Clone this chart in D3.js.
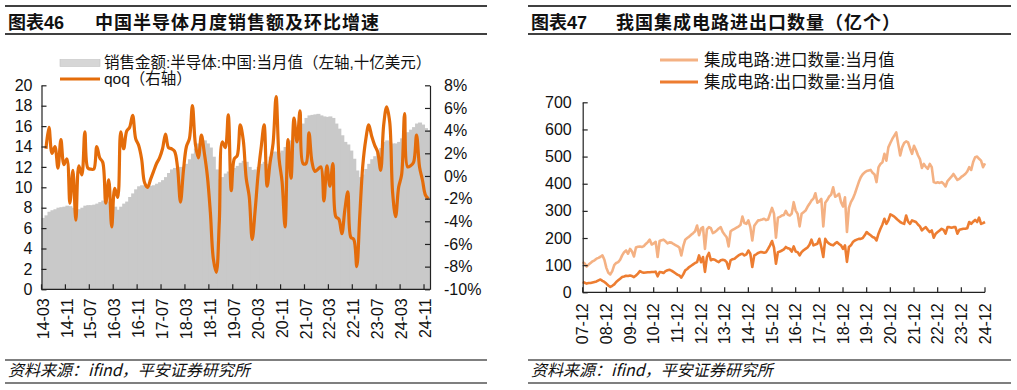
<!DOCTYPE html>
<html><head><meta charset="utf-8">
<script src="https://cdn.jsdelivr.net/npm/d3@7"></script>
<style>
body{margin:0;background:#fff}
svg{display:block}
text{font-family:"Liberation Sans",Arial,"Noto Sans CJK SC",sans-serif;fill:#111}
</style></head>
<body><svg id="c" width="1017" height="390"></svg>
<script>
// ---------- data: chart 46 (2014-03 .. 2024-12) ----------
const salesStart = [2014, 3];
const salesValues = [
 7.0,7.25,7.6,7.75,7.85,8.0,8.05,8.1,8.2,8.15,
 8.0,7.9,7.85,8.0,8.2,8.25,8.25,8.3,8.4,8.55,
 8.7,8.75,8.6,8.4,8.1,7.8,8.1,8.4,8.6,9.05,
 9.4,9.8,10.1,10.2,10.15,10.15,10.15,10.2,10.35,10.5,
 10.7,11.0,11.4,11.75,11.9,12.0,12.0,11.75,12.3,12.75,
 13.3,13.8,14.3,14.6,14.6,14.3,13.9,13.0,11.75,10.8,
 11.0,11.35,11.55,11.75,11.9,12.1,12.4,12.6,12.5,12.0,
 11.7,11.75,12.0,12.3,12.5,12.3,13.0,13.5,13.5,13.4,
 13.6,13.95,14.3,14.6,14.9,15.35,15.75,16.25,16.8,17.05,
 17.1,17.15,17.2,17.05,16.95,16.9,16.95,16.8,16.25,15.75,
 15.1,14.45,14.2,13.6,12.8,11.65,11.0,11.25,11.8,12.3,
 12.75,13.05,13.4,13.85,14.45,14.6,14.45,14.3,14.3,14.45,
 14.8,15.15,15.4,15.65,15.9,16.25,16.35,16.15,15.8,15.6
];
const qoqValues = [
 null,
 2.4,4.3,2.0,2.6,0.7,3.2,1.0,1.5,-2.4,0.5,
 -3.9,0.9,0.1,3.9,0.7,0.6,0.6,2.6,1.6,1.2,
 -2.4,-0.35,-4.5,-1.1,-1.9,3.9,2.4,3.95,4.3,5.35,
 3.3,2.7,1.5,-0.6,-1.0,-0.3,0.4,1.1,1.6,2.4,
 3.7,2.5,2.4,2.2,0.8,-2.3,0.5,2.6,3.3,6.2,
 2.8,1.6,3.6,2.0,0.0,-3.2,-7.3,-8.5,-4.0,3.0,
 2.5,5.4,-1.3,1.5,1.8,4.5,3.2,-0.2,-1.8,-5.6,
 -3.0,0.2,2.5,4.5,-0.9,1.2,2.9,7.0,1.5,-0.5,
 -4.5,3.2,-0.2,5.1,3.0,5.75,1.1,1.1,3.8,1.25,
 0.4,0.6,0.8,-2.2,0.9,-0.9,1.1,-3.6,-3.8,-5.1,
 -3.0,-1.4,-5.4,-5.6,-8.0,-3.5,0.9,3.2,4.5,3.5,
 2.7,2.1,0.5,4.5,6.1,4.8,-1.5,-3.6,-1.0,0.1,
 5.5,0.8,0.9,1.2,3.6,0.8,-0.4,-1.7,-2.0
];
const salesTickLabels = ["14-03","14-11","15-07","16-03","16-11","17-07","18-03","18-11","19-07","20-03","20-11","21-07","22-03","22-11","23-07","24-03","24-11"];
const leftTicks = [0,2,4,6,8,10,12,14,16,18,20];
const rightTicks = [-10,-8,-6,-4,-2,0,2,4,6,8];

// ---------- data: chart 47 (2007-12 .. 2024-12) ----------
const icStart = [2007, 12];
const importQty = [
 112,
 106,95,102,108,114,118,124,127,131,136,120,90,
 72,66,78,100,108,111,120,136,148,154,142,160,
 150,132,165,168,169,167,170,178,185,194,176,180,
 186,130,189,192,194,188,180,184,183,178,174,170,
 165,136,170,194,200,205,212,218,225,246,210,235,
 240,160,232,240,236,218,222,228,235,240,222,212,
 203,169,225,230,234,238,242,248,279,255,252,265,
 240,191,245,255,265,266,268,271,266,268,290,311,
 290,201,275,278,283,285,300,286,283,290,332,301,
 289,243,289,295,301,315,326,338,345,365,330,335,
 344,243,330,340,353,360,387,352,356,363,332,316,
 350,222,311,332,345,363,385,406,424,435,442,447,
 449,451,440,434,406,460,473,479,510,485,534,550,
 565,577,589,546,504,534,550,556,552,530,510,540,
 524,505,491,458,473,462,455,473,461,406,403,405,
 403,406,400,390,410,418,426,436,425,414,418,425,
 430,436,445,461,451,480,498,500,492,485,461,475
];
const exportQty = [
 38,
 35,32,34,34,36,38,40,44,47,42,38,32,
 25,20,24,29,38,44,50,56,58,61,60,62,
 60,56,62,69,78,74,72,73,74,74,75,75,
 76,59,75,74,71,78,81,83,80,75,70,65,
 62,54,66,81,86,93,98,103,108,111,136,111,
 130,75,130,145,118,122,120,115,111,118,120,118,
 111,87,118,122,124,130,136,140,142,136,140,154,
 142,93,136,140,145,148,148,146,148,160,173,189,
 165,105,148,150,154,158,167,162,160,150,169,150,
 148,136,148,155,160,165,175,194,173,176,179,197,
 167,130,197,185,179,175,173,180,185,178,173,160,
 173,112,167,173,185,191,194,197,197,200,210,222,
 215,210,204,201,191,216,234,250,271,252,265,287,
 283,279,272,265,259,255,252,283,260,252,265,262,
 259,250,243,228,235,240,230,222,228,201,216,222,
 228,234,230,216,240,240,238,240,240,216,230,232,
 234,234,236,259,252,260,267,259,275,252,255,259
];
const icTickLabels = ["07-12","08-12","09-12","10-12","11-12","12-12","13-12","14-12","15-12","16-12","17-12","18-12","19-12","20-12","21-12","22-12","23-12","24-12"];
const icYTicks = [0,100,200,300,400,500,600,700];

// ---------- helpers ----------
function months(start, n){
  const out=[]; let y=start[0], m=start[1];
  for(let k=0;k<n;k++){ out.push(String(y%100).padStart(2,"0")+"-"+String(m).padStart(2,"0")); m++; if(m>12){m=1;y++;} }
  return out;
}
const salesCats = months(salesStart, salesValues.length);
const icCats = months(icStart, importQty.length);

const svg = d3.select("#c");
const AX = "#222";

function frame(x0, x1, titleNo, titleText, tx2){
  svg.append("line").attr("x1",x0).attr("x2",x1).attr("y1",6).attr("y2",6).attr("stroke","#000").attr("stroke-width",1.6);
  svg.append("line").attr("x1",x0).attr("x2",x1).attr("y1",34).attr("y2",34).attr("stroke","#000").attr("stroke-width",1.6);
  svg.append("text").attr("x",x0+3).attr("y",29).attr("font-size",18).attr("font-weight","bold").text(titleNo);
  svg.append("text").attr("x",tx2).attr("y",29).attr("font-size",18).attr("font-weight","bold").attr("letter-spacing",1).text(titleText);
  svg.append("line").attr("x1",x0).attr("x2",x1).attr("y1",360).attr("y2",360).attr("stroke","#000").attr("stroke-width",1.2);
  svg.append("line").attr("x1",x0).attr("x2",x1).attr("y1",383).attr("y2",383).attr("stroke","#000").attr("stroke-width",1.2);
  svg.append("text").attr("x",x0+3).attr("y",376).attr("font-size",16).attr("font-style","italic")
    .style("font-family","'Noto Sans CJK SC','Liberation Sans',sans-serif").attr("fill","#222").text("资料来源：ifind，平安证券研究所");
}

// ================= Chart 46 =================
frame(5, 487, "图表46", "中国半导体月度销售额及环比增速", 95);

const L = {x0:41.5, x1:430, y0:289.3, y1:85.3};
const xb = d3.scaleBand().domain(salesCats).range([L.x0, L.x1]).padding(0);
const yL = d3.scaleLinear().domain([0,20]).range([L.y0, L.y1]);
const yR = d3.scaleLinear().domain([-10,8]).range([L.y0, L.y1]);

svg.append("g").selectAll("rect").data(salesValues).join("rect")
  .attr("x",(d,i)=>xb(salesCats[i]))
  .attr("width",(d,i)=> i===salesValues.length-1 ? xb.bandwidth() : xb.bandwidth()+1)
  .attr("y",d=>yL(d))
  .attr("height",d=>yL(0)-yL(d))
  .attr("fill","#c9c9c9");

const qoqLine = d3.line()
  .defined(d=>d!=null)
  .x((d,i)=>xb(salesCats[i])+xb.bandwidth()/2)
  .y(d=>yR(d))
  .curve(d3.curveCatmullRom.alpha(0.5));
svg.append("path").datum(qoqValues).attr("d",qoqLine).attr("fill","none")
  .attr("stroke","#E46C0A").attr("stroke-width",3.2).attr("stroke-linejoin","round");

function styleAxis(g){
  g.select(".domain").attr("stroke",AX).attr("stroke-width",1.2);
  g.selectAll(".tick line").attr("stroke",AX).attr("stroke-width",1.2);
  g.selectAll(".tick text").attr("font-size",16).attr("fill","#111")
   .style("font-family","'Liberation Sans',Arial,sans-serif");
}
const gl = svg.append("g").attr("transform",`translate(${L.x0},0)`)
  .call(d3.axisLeft(yL).tickValues(leftTicks).tickSize(-5).tickSizeOuter(0).tickPadding(9));
styleAxis(gl);
const gr = svg.append("g").attr("transform",`translate(${L.x1},0)`)
  .call(d3.axisRight(yR).tickValues(rightTicks).tickSize(-5).tickSizeOuter(0).tickPadding(14).tickFormat(d=>d+"%"));
styleAxis(gr);

// x axis (category)
svg.append("line").attr("x1",L.x0).attr("x2",L.x1).attr("y1",L.y0).attr("y2",L.y0).attr("stroke",AX).attr("stroke-width",1.2);
const salesTickIdx = salesTickLabels.map(l=>salesCats.indexOf(l));
svg.append("g").selectAll("line").data(salesTickIdx).join("line")
  .attr("x1",i=>xb(salesCats[i])).attr("x2",i=>xb(salesCats[i]))
  .attr("y1",L.y0).attr("y2",L.y0-5).attr("stroke",AX).attr("stroke-width",1.2);
svg.append("g").selectAll("text").data(salesTickLabels).join("text")
  .attr("transform",l=>`translate(${xb(l)+xb.bandwidth()/2},${L.y0+9}) rotate(-90)`)
  .attr("text-anchor","end").attr("dy","0.35em").attr("font-size",16).text(l=>l);

// legend
svg.append("rect").attr("x",60).attr("y",59.5).attr("width",40).attr("height",7).attr("fill","#d6d6d6").attr("stroke","#c4c4c4").attr("stroke-width",0.6);
svg.append("text").attr("x",104).attr("y",63).attr("dy","0.35em").attr("font-size",15.5).text("销售金额:半导体:中国:当月值（左轴,十亿美元）");
svg.append("line").attr("x1",60).attr("x2",100).attr("y1",79).attr("y2",79).attr("stroke","#E46C0A").attr("stroke-width",3);
svg.append("text").attr("x",104).attr("y",79).attr("dy","0.35em").attr("font-size",15.5).text("qoq（右轴）");

// ================= Chart 47 =================
frame(528, 1011, "图表47", "我国集成电路进出口数量（亿个）", 616);

const R = {x0:582.7, x1:985, y0:292.3, y1:102.3};
const xi = d3.scaleLinear().domain([0, icCats.length-1]).range([R.x0, R.x1]);
const yi = d3.scaleLinear().domain([0,700]).range([R.y0, R.y1]);

const icLine = d3.line().x((d,i)=>xi(i)).y(d=>yi(d));
svg.append("path").datum(importQty).attr("d",icLine).attr("fill","none")
  .attr("stroke","#F4B183").attr("stroke-width",2.6).attr("stroke-linejoin","round");
svg.append("path").datum(exportQty).attr("d",icLine).attr("fill","none")
  .attr("stroke","#ED7D31").attr("stroke-width",2.6).attr("stroke-linejoin","round");

const gi = svg.append("g").attr("transform",`translate(${R.x0},0)`)
  .call(d3.axisLeft(yi).tickValues(icYTicks).tickSize(-5).tickSizeOuter(0).tickPadding(11));
styleAxis(gi);

svg.append("line").attr("x1",R.x0).attr("x2",R.x1).attr("y1",R.y0).attr("y2",R.y0).attr("stroke",AX).attr("stroke-width",1.2);
const icTickIdx = icTickLabels.map(l=>icCats.indexOf(l));
svg.append("g").selectAll("line").data(icTickIdx).join("line")
  .attr("x1",i=>xi(i)).attr("x2",i=>xi(i))
  .attr("y1",R.y0).attr("y2",R.y0-5).attr("stroke",AX).attr("stroke-width",1.2);
svg.append("g").selectAll("text").data(icTickIdx).join("text")
  .attr("transform",i=>`translate(${xi(i)},${R.y0+11}) rotate(-90)`)
  .attr("text-anchor","end").attr("dy","0.35em").attr("font-size",16).text(i=>icCats[i]);

svg.append("line").attr("x1",660).attr("x2",698).attr("y1",60).attr("y2",60).attr("stroke","#F4B183").attr("stroke-width",3);
svg.append("text").attr("x",704).attr("y",60).attr("dy","0.35em").attr("font-size",16.5).text("集成电路:进口数量:当月值");
svg.append("line").attr("x1",660).attr("x2",698).attr("y1",82).attr("y2",82).attr("stroke","#ED7D31").attr("stroke-width",3);
svg.append("text").attr("x",704).attr("y",82).attr("dy","0.35em").attr("font-size",16.5).text("集成电路:出口数量:当月值");
</script>
</body></html>
